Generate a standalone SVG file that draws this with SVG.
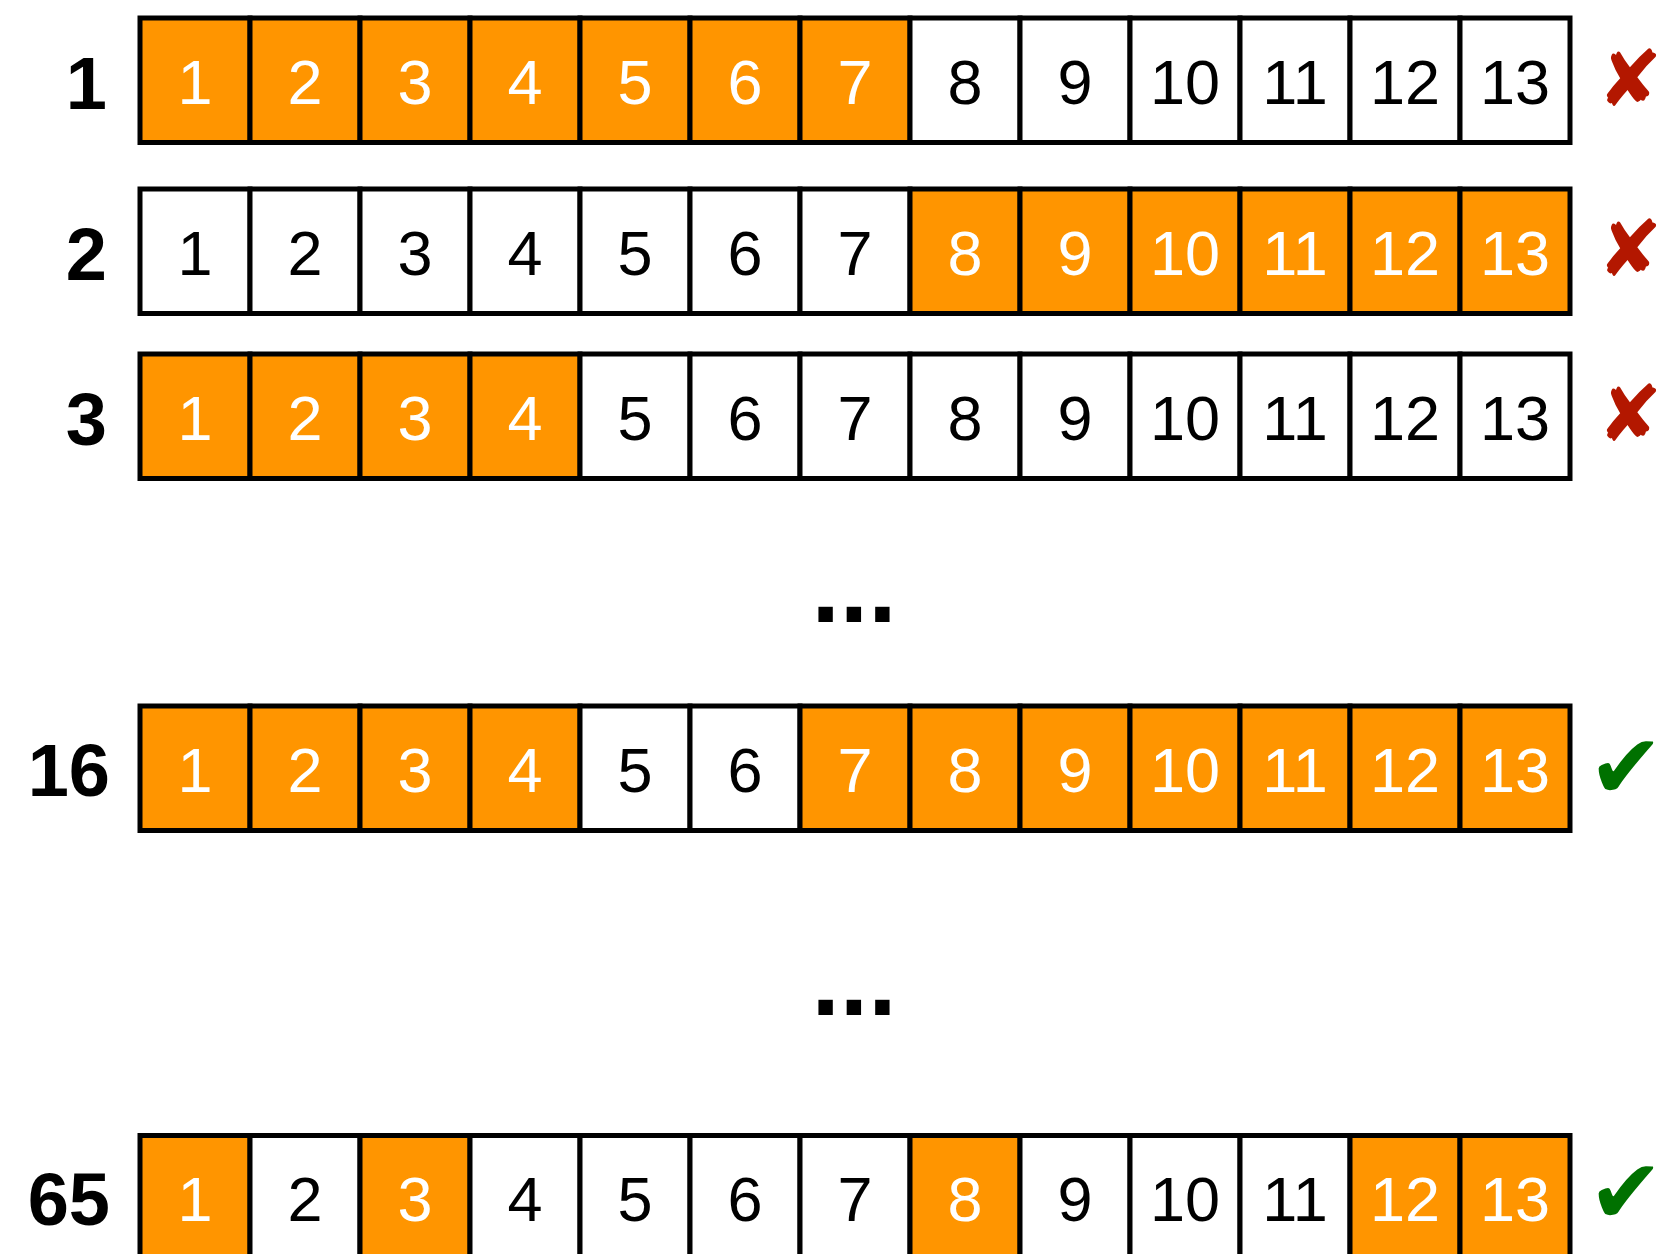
<svg xmlns="http://www.w3.org/2000/svg" width="1665" height="1254" viewBox="0 0 1665 1254">
<style>
.c{stroke:#000;stroke-width:5}
.o{fill:#ff9500}
.w{fill:#fff}
text{font-family:"Liberation Sans",Arial,sans-serif;text-anchor:middle}
.n{font-size:63px}
.tw{fill:#fff}
.tb{fill:#000}
.lbl{font-size:74px;font-weight:bold;text-anchor:end;fill:#000}
.x{font-family:"DejaVu Sans",sans-serif;font-size:78px;fill:#b31700}
.ok{font-family:"DejaVu Sans",sans-serif;font-size:90px;fill:#007100}
.dots{font-size:102px;font-weight:bold;fill:#000}
</style>
<rect width="1665" height="1254" fill="#fff"/>

<g id="row1">
<text class="lbl" x="107" y="109">1</text>
<rect class="c o" x="140" y="18" width="110" height="124.5"/>
<rect class="c o" x="250" y="18" width="110" height="124.5"/>
<rect class="c o" x="360" y="18" width="110" height="124.5"/>
<rect class="c o" x="470" y="18" width="110" height="124.5"/>
<rect class="c o" x="580" y="18" width="110" height="124.5"/>
<rect class="c o" x="690" y="18" width="110" height="124.5"/>
<rect class="c o" x="800" y="18" width="110" height="124.5"/>
<rect class="c w" x="910" y="18" width="110" height="124.5"/>
<rect class="c w" x="1020" y="18" width="110" height="124.5"/>
<rect class="c w" x="1130" y="18" width="110" height="124.5"/>
<rect class="c w" x="1240" y="18" width="110" height="124.5"/>
<rect class="c w" x="1350" y="18" width="110" height="124.5"/>
<rect class="c w" x="1460" y="18" width="110" height="124.5"/>
<text class="n tw" x="195" y="104">1</text>
<text class="n tw" x="305" y="104">2</text>
<text class="n tw" x="415" y="104">3</text>
<text class="n tw" x="525" y="104">4</text>
<text class="n tw" x="635" y="104">5</text>
<text class="n tw" x="745" y="104">6</text>
<text class="n tw" x="855" y="104">7</text>
<text class="n tb" x="965" y="104">8</text>
<text class="n tb" x="1075" y="104">9</text>
<text class="n tb" x="1185" y="104">10</text>
<text class="n tb" x="1295" y="104">11</text>
<text class="n tb" x="1405" y="104">12</text>
<text class="n tb" x="1515" y="104">13</text>
<text class="x" x="1630" y="106">✘</text>
</g>

<g id="row2">
<text class="lbl" x="107" y="280">2</text>
<rect class="c w" x="140" y="189" width="110" height="124.5"/>
<rect class="c w" x="250" y="189" width="110" height="124.5"/>
<rect class="c w" x="360" y="189" width="110" height="124.5"/>
<rect class="c w" x="470" y="189" width="110" height="124.5"/>
<rect class="c w" x="580" y="189" width="110" height="124.5"/>
<rect class="c w" x="690" y="189" width="110" height="124.5"/>
<rect class="c w" x="800" y="189" width="110" height="124.5"/>
<rect class="c o" x="910" y="189" width="110" height="124.5"/>
<rect class="c o" x="1020" y="189" width="110" height="124.5"/>
<rect class="c o" x="1130" y="189" width="110" height="124.5"/>
<rect class="c o" x="1240" y="189" width="110" height="124.5"/>
<rect class="c o" x="1350" y="189" width="110" height="124.5"/>
<rect class="c o" x="1460" y="189" width="110" height="124.5"/>
<text class="n tb" x="195" y="275">1</text>
<text class="n tb" x="305" y="275">2</text>
<text class="n tb" x="415" y="275">3</text>
<text class="n tb" x="525" y="275">4</text>
<text class="n tb" x="635" y="275">5</text>
<text class="n tb" x="745" y="275">6</text>
<text class="n tb" x="855" y="275">7</text>
<text class="n tw" x="965" y="275">8</text>
<text class="n tw" x="1075" y="275">9</text>
<text class="n tw" x="1185" y="275">10</text>
<text class="n tw" x="1295" y="275">11</text>
<text class="n tw" x="1405" y="275">12</text>
<text class="n tw" x="1515" y="275">13</text>
<text class="x" x="1630" y="276">✘</text>
</g>

<g id="row3">
<text class="lbl" x="107" y="445">3</text>
<rect class="c o" x="140" y="354" width="110" height="124.5"/>
<rect class="c o" x="250" y="354" width="110" height="124.5"/>
<rect class="c o" x="360" y="354" width="110" height="124.5"/>
<rect class="c o" x="470" y="354" width="110" height="124.5"/>
<rect class="c w" x="580" y="354" width="110" height="124.5"/>
<rect class="c w" x="690" y="354" width="110" height="124.5"/>
<rect class="c w" x="800" y="354" width="110" height="124.5"/>
<rect class="c w" x="910" y="354" width="110" height="124.5"/>
<rect class="c w" x="1020" y="354" width="110" height="124.5"/>
<rect class="c w" x="1130" y="354" width="110" height="124.5"/>
<rect class="c w" x="1240" y="354" width="110" height="124.5"/>
<rect class="c w" x="1350" y="354" width="110" height="124.5"/>
<rect class="c w" x="1460" y="354" width="110" height="124.5"/>
<text class="n tw" x="195" y="440">1</text>
<text class="n tw" x="305" y="440">2</text>
<text class="n tw" x="415" y="440">3</text>
<text class="n tw" x="525" y="440">4</text>
<text class="n tb" x="635" y="440">5</text>
<text class="n tb" x="745" y="440">6</text>
<text class="n tb" x="855" y="440">7</text>
<text class="n tb" x="965" y="440">8</text>
<text class="n tb" x="1075" y="440">9</text>
<text class="n tb" x="1185" y="440">10</text>
<text class="n tb" x="1295" y="440">11</text>
<text class="n tb" x="1405" y="440">12</text>
<text class="n tb" x="1515" y="440">13</text>
<text class="x" x="1630" y="441">✘</text>
</g>

<g id="dots1"><text class="dots" x="854" y="622">...</text></g>

<g id="row16">
<text class="lbl" x="110" y="796">16</text>
<rect class="c o" x="140" y="706" width="110" height="124.5"/>
<rect class="c o" x="250" y="706" width="110" height="124.5"/>
<rect class="c o" x="360" y="706" width="110" height="124.5"/>
<rect class="c o" x="470" y="706" width="110" height="124.5"/>
<rect class="c w" x="580" y="706" width="110" height="124.5"/>
<rect class="c w" x="690" y="706" width="110" height="124.5"/>
<rect class="c o" x="800" y="706" width="110" height="124.5"/>
<rect class="c o" x="910" y="706" width="110" height="124.5"/>
<rect class="c o" x="1020" y="706" width="110" height="124.5"/>
<rect class="c o" x="1130" y="706" width="110" height="124.5"/>
<rect class="c o" x="1240" y="706" width="110" height="124.5"/>
<rect class="c o" x="1350" y="706" width="110" height="124.5"/>
<rect class="c o" x="1460" y="706" width="110" height="124.5"/>
<text class="n tw" x="195" y="792">1</text>
<text class="n tw" x="305" y="792">2</text>
<text class="n tw" x="415" y="792">3</text>
<text class="n tw" x="525" y="792">4</text>
<text class="n tb" x="635" y="792">5</text>
<text class="n tb" x="745" y="792">6</text>
<text class="n tw" x="855" y="792">7</text>
<text class="n tw" x="965" y="792">8</text>
<text class="n tw" x="1075" y="792">9</text>
<text class="n tw" x="1185" y="792">10</text>
<text class="n tw" x="1295" y="792">11</text>
<text class="n tw" x="1405" y="792">12</text>
<text class="n tw" x="1515" y="792">13</text>
<text class="ok" x="1626" y="798">✔</text>
</g>

<g id="dots2"><text class="dots" x="854" y="1015">...</text></g>

<g id="row65">
<text class="lbl" x="110" y="1225">65</text>
<rect class="c o" x="140" y="1135.5" width="110" height="124.5"/>
<rect class="c w" x="250" y="1135.5" width="110" height="124.5"/>
<rect class="c o" x="360" y="1135.5" width="110" height="124.5"/>
<rect class="c w" x="470" y="1135.5" width="110" height="124.5"/>
<rect class="c w" x="580" y="1135.5" width="110" height="124.5"/>
<rect class="c w" x="690" y="1135.5" width="110" height="124.5"/>
<rect class="c w" x="800" y="1135.5" width="110" height="124.5"/>
<rect class="c o" x="910" y="1135.5" width="110" height="124.5"/>
<rect class="c w" x="1020" y="1135.5" width="110" height="124.5"/>
<rect class="c w" x="1130" y="1135.5" width="110" height="124.5"/>
<rect class="c w" x="1240" y="1135.5" width="110" height="124.5"/>
<rect class="c o" x="1350" y="1135.5" width="110" height="124.5"/>
<rect class="c o" x="1460" y="1135.5" width="110" height="124.5"/>
<text class="n tw" x="195" y="1221">1</text>
<text class="n tb" x="305" y="1221">2</text>
<text class="n tw" x="415" y="1221">3</text>
<text class="n tb" x="525" y="1221">4</text>
<text class="n tb" x="635" y="1221">5</text>
<text class="n tb" x="745" y="1221">6</text>
<text class="n tb" x="855" y="1221">7</text>
<text class="n tw" x="965" y="1221">8</text>
<text class="n tb" x="1075" y="1221">9</text>
<text class="n tb" x="1185" y="1221">10</text>
<text class="n tb" x="1295" y="1221">11</text>
<text class="n tw" x="1405" y="1221">12</text>
<text class="n tw" x="1515" y="1221">13</text>
<text class="ok" x="1626" y="1223">✔</text>
</g>

<g id="connectors"/>
</svg>
